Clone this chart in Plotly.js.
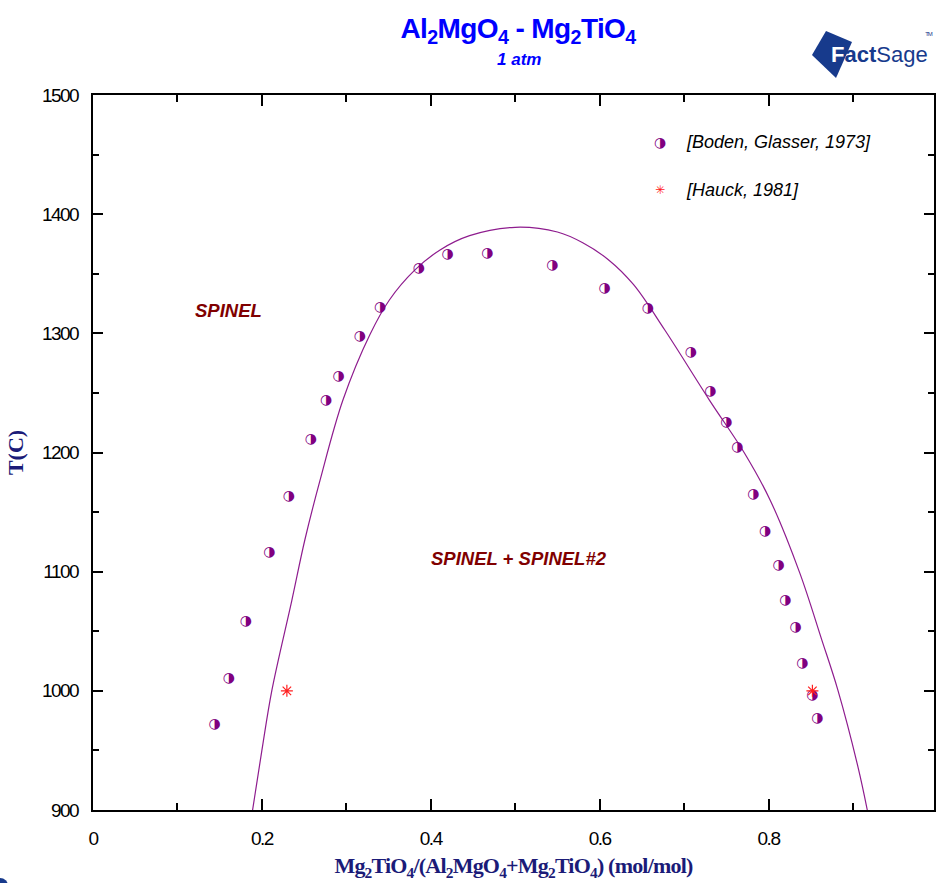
<!DOCTYPE html>
<html>
<head>
<meta charset="utf-8">
<script src="https://cdn.plot.ly/plotly-3.0.1.min.js"></script>
<style>
html,body{margin:0;padding:0;background:#fff;}
#chart{width:936px;height:883px;}
#chart g.xtick text, #chart g.ytick text{letter-spacing:-1.5px;}
#chart .gtitle{letter-spacing:-0.6px;}
#chart .xtitle{letter-spacing:-0.8px;}
#chart .annotation[data-index="8"] text{letter-spacing:-1.2px;}
</style>
</head>
<body>
<div id="chart"></div>
<script>
// Boden, Glasser 1973 experimental points
const bodenX = [0.144,0.161,0.181,0.209,0.232,0.258,0.276,0.291,0.316,0.340,0.386,0.420,0.467,0.544,0.606,0.657,0.708,0.731,0.750,0.763,0.782,0.796,0.812,0.820,0.832,0.840,0.852,0.858];
const bodenT = [972,1010,1058,1116,1163,1211,1244,1264,1297,1322,1354,1366,1367,1357,1338,1321,1284,1251,1225,1204,1165,1134,1105,1076,1053,1023,996,977];
// Hauck 1981
const hauckX = [0.2296, 0.852];
const hauckT = [1000, 1000];
// Calculated miscibility gap (FactSage)
const gapX = [0.189,0.200,0.212,0.2355,0.251,0.269,0.296,0.328,0.351,0.381,0.411,0.446,0.500,0.550,0.580,0.610,0.640,0.677,0.730,0.772,0.802,0.837,0.863,0.882,0.906,0.917];
const gapT = [900,950,1001,1076,1127,1177,1244,1299,1328,1353,1370,1382,1389,1385,1376,1362,1341,1303,1244,1199,1160,1099,1043,1001,936,900];
// Axis ticks
const xTicks = [0, 0.2, 0.4, 0.6, 0.8];
const xTickLabels = ['0', '0.2', '0.4', '0.6', '0.8'];
const yTicks = [900, 1000, 1100, 1200, 1300, 1400, 1500];
const yTickLabels = ['900', '1000', '1100', '1200', '1300', '1400', '1500'];
// Legend and phase labels
const legendNames = ['[Boden, Glasser, 1973]', '[Hauck, 1981]'];
const phaseLabels = ['SPINEL', 'SPINEL + SPINEL#2'];
const phaseX = [0.161, 0.504];
const phaseT = [1319, 1111];

const purple = '#800080';
const tickFont = {family: 'Liberation Sans, Arial, sans-serif', size: 19, color: '#000'};

const traces = [
  {x: gapX, y: gapT, mode: 'lines', line: {color: '#8e1c8e', width: 1.2, shape: 'spline', smoothing: 1}, showlegend: false, hoverinfo: 'skip'},
  {x: bodenX, y: bodenT, mode: 'text', text: bodenX.map(() => '\u25D1'), textposition: 'middle center',
   textfont: {family: 'DejaVu Sans', size: 14, color: purple}, showlegend: false, name: legendNames[0]},
  {x: hauckX, y: hauckT, mode: 'markers', marker: {symbol: 'asterisk-open', size: 10, color: '#ff2020', line: {color: '#ff2020', width: 1.2}}, showlegend: false, name: legendNames[1]}
];

const axisCommon = {
  showline: true, linecolor: '#000', linewidth: 2, mirror: 'ticks', ticks: 'inside', tickcolor: '#000', tickwidth: 2,
  showgrid: false, zeroline: false, tickfont: tickFont
};

const layout = {
  width: 936, height: 883,
  margin: {l: 93, r: 2, t: 95, b: 73},
  paper_bgcolor: '#fff', plot_bgcolor: '#fff',
  title: {text: '<b>Al<sub>2</sub>MgO<sub>4</sub> - Mg<sub>2</sub>TiO<sub>4</sub></b>', x: 518/936, xanchor: 'center', y: 1 - 28/883, yanchor: 'middle',
          font: {family: 'Liberation Sans, Arial, sans-serif', size: 28, color: '#0000ff'}},
  xaxis: Object.assign({}, axisCommon, {
    range: [0, 0.996], tickvals: xTicks, ticktext: xTickLabels, ticklen: 11, ticklabelstandoff: 10,
    minor: {dtick: 0.1, ticklen: 7, tickwidth: 2, tickcolor: '#000', ticks: 'inside'},
    title: {text: '<b>Mg<sub>2</sub>TiO<sub>4</sub>/(Al<sub>2</sub>MgO<sub>4</sub>+Mg<sub>2</sub>TiO<sub>4</sub>) (mol/mol)</b>', standoff: 10,
            font: {family: 'Liberation Serif, Times New Roman, serif', size: 22, color: '#1b1b78'}}
  }),
  yaxis: Object.assign({}, axisCommon, {
    range: [900, 1500], tickvals: yTicks, ticktext: yTickLabels, ticklen: 10, ticklabelstandoff: 9,
    minor: {dtick: 50, ticklen: 6, tickwidth: 2, tickcolor: '#000', ticks: 'inside'},
    title: {text: '<b>T(C)</b>', standoff: 6, font: {family: 'Liberation Serif, Times New Roman, serif', size: 22, color: '#1b1b78'}}
  }),
  shapes: [
    {type: 'path', xref: 'paper', yref: 'paper', path: 'M 0.8549 1.0559 L 0.8716 1.0895 L 0.9025 1.0741 L 0.8835 1.0238 Z', fillcolor: '#173a8c', line: {width: 0}},
    {type: 'circle', xref: 'paper', yref: 'paper', x0: -0.120, x1: -0.101, y0: -0.1175, y1: -0.0951, fillcolor: '#173a8c', line: {width: 0}}
  ],
  annotations: [
    {text: '<b><i>1 atm</i></b>', xref: 'paper', yref: 'paper', x: (519-93)/841, y: (810-60)/715, xanchor: 'center', yanchor: 'middle', showarrow: false,
     font: {family: 'Liberation Sans, Arial, sans-serif', size: 17, color: '#0000ff'}},
    {text: '<b><i>' + phaseLabels[0] + '</i></b>', x: phaseX[0], y: phaseT[0], xanchor: 'center', yanchor: 'middle', showarrow: false,
     font: {family: 'Liberation Sans, Arial, sans-serif', size: 18.5, color: '#800000'}},
    {text: '<b><i>' + phaseLabels[1] + '</i></b>', x: phaseX[1], y: phaseT[1], xanchor: 'center', yanchor: 'middle', showarrow: false,
     font: {family: 'Liberation Sans, Arial, sans-serif', size: 18.5, color: '#800000'}},
    {text: '\u25D1', xref: 'paper', yref: 'paper', x: (660-93)/841, y: (810-142)/715, xanchor: 'center', yanchor: 'middle', showarrow: false,
     font: {family: 'DejaVu Sans', size: 14, color: purple}},
    {text: '<i>' + legendNames[0] + '</i>', xref: 'paper', yref: 'paper', x: (684-93)/841, y: (810-142)/715, xanchor: 'left', yanchor: 'middle', showarrow: false,
     font: {family: 'Liberation Sans, Arial, sans-serif', size: 18, color: '#000'}},
    {text: '\u2733', xref: 'paper', yref: 'paper', x: (660-93)/841, y: (810-190)/715, xanchor: 'center', yanchor: 'middle', showarrow: false,
     font: {family: 'DejaVu Sans', size: 12, color: '#ff2020'}},
    {text: '<i>' + legendNames[1] + '</i>', xref: 'paper', yref: 'paper', x: (684-93)/841, y: (810-190)/715, xanchor: 'left', yanchor: 'middle', showarrow: false,
     font: {family: 'Liberation Sans, Arial, sans-serif', size: 18, color: '#000'}},
    {text: '<b><span style="color:#ffffff">F</span>act</b>Sage', xref: 'paper', yref: 'paper', x: (829-93)/841, y: (810-55)/715, xanchor: 'left', yanchor: 'middle', showarrow: false,
     font: {family: 'Liberation Sans, Arial, sans-serif', size: 22, color: '#173a8c'}},
    {text: 'TM', xref: 'paper', yref: 'paper', x: (928-93)/841, y: (810-34)/715, xanchor: 'center', yanchor: 'middle', showarrow: false,
     font: {family: 'Liberation Sans, Arial, sans-serif', size: 6, color: '#173a8c'}}
  ]
};

Plotly.newPlot('chart', traces, layout, {displayModeBar: false, staticPlot: true});
</script>
</body>
</html>
